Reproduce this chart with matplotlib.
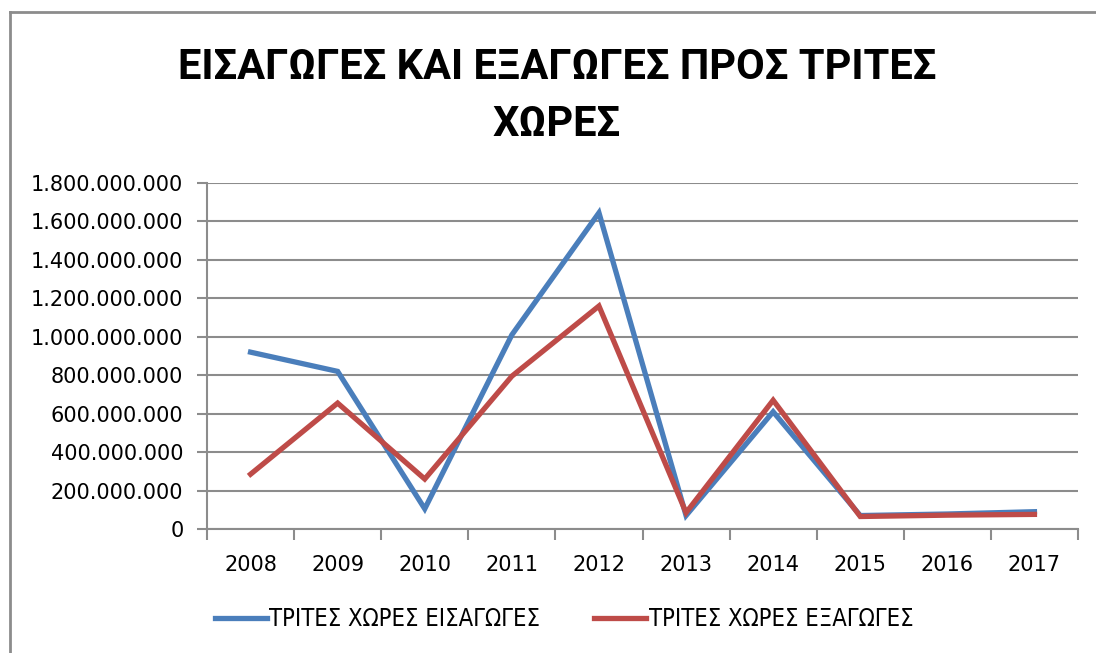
import matplotlib.pyplot as plt
from matplotlib.lines import Line2D
from matplotlib.ticker import FuncFormatter, FixedLocator

# data
years = ["2008", "2009", "2010", "2011", "2012", "2013", "2014", "2015", "2016", "2017"]
imports = [920e6, 820e6, 105e6, 1010e6, 1645e6, 70e6, 610e6, 70e6, 78e6, 90e6]
exports = [285e6, 655e6, 260e6, 795e6, 1160e6, 85e6, 670e6, 65e6, 72e6, 76e6]

title = "ΕΙΣΑΓΩΓΕΣ ΚΑΙ ΕΞΑΓΩΓΕΣ ΠΡΟΣ ΤΡΙΤΕΣ\nΧΩΡΕΣ"
label_imp = "ΤΡΙΤΕΣ ΧΩΡΕΣ ΕΙΣΑΓΩΓΕΣ"
label_exp = "ΤΡΙΤΕΣ ΧΩΡΕΣ ΕΞΑΓΩΓΕΣ"

BLUE = "#4a7ebb"
RED = "#be4b48"
GRID = "#8c8c8c"


def dotted(v, pos):
    # thousands separated by dots
    return f"{int(round(v)):,}".replace(",", ".")


def main():
    fig = plt.figure(figsize=(10.96, 6.53), dpi=100)
    ax = fig.add_axes([207 / 1096, 1 - 529 / 653, 871 / 1096, 346 / 653])

    x = list(range(len(years)))
    ax.plot(x, imports, color=BLUE, lw=3.8, label=label_imp, solid_joinstyle="miter")
    ax.plot(x, exports, color=RED, lw=3.8, label=label_exp, solid_joinstyle="miter")

    ax.set_xlim(-0.5, len(years) - 0.5)
    ax.set_ylim(0, 1.8e9)
    ax.set_yticks([i * 200e6 for i in range(10)])
    ax.yaxis.set_major_formatter(FuncFormatter(dotted))
    ax.grid(axis="y", color=GRID, lw=1.5)
    ax.set_axisbelow(True)

    # tick marks between categories, labels at centres
    ax.xaxis.set_major_locator(FixedLocator([i - 0.5 for i in range(len(years) + 1)]))
    ax.xaxis.set_major_formatter(FuncFormatter(lambda v, p: ""))
    ax.set_xticks(x, minor=True)
    ax.set_xticklabels(years, minor=True)
    ax.tick_params(axis="x", which="major", length=8, width=1.5, color=GRID)
    ax.tick_params(axis="x", which="minor", length=0, pad=19, labelsize=15)
    ax.tick_params(axis="y", length=7, width=1.5, color=GRID, labelsize=15, pad=10)

    for s in ["top", "right"]:
        ax.spines[s].set_visible(False)
    for s in ["left", "bottom"]:
        ax.spines[s].set_color(GRID)
        ax.spines[s].set_linewidth(1.5)

    fig.text(557 / 1096, 1 - 96 / 653, title, ha="center", va="center",
             fontsize=30, fontweight="bold", family="Roboto", linespacing=1.5)

    fig.legend(loc="center", bbox_to_anchor=(564 / 1096, 1 - 619 / 653), ncol=2,
               frameon=False, prop={"family": "DejaVu Sans", "stretch": "condensed", "size": 17},
               handlelength=2.2, handletextpad=0.1, columnspacing=2.3)

    # chart area border (only top and left are inside the picture)
    fig.add_artist(Line2D([10 / 1096, 10 / 1096], [0, 1 - 12 / 653],
                          transform=fig.transFigure, color=GRID, lw=2))
    fig.add_artist(Line2D([10 / 1096, 1], [1 - 12 / 653, 1 - 12 / 653],
                          transform=fig.transFigure, color=GRID, lw=2))

    fig.savefig("out.png", dpi=100)


if __name__ == "__main__":
    main()
